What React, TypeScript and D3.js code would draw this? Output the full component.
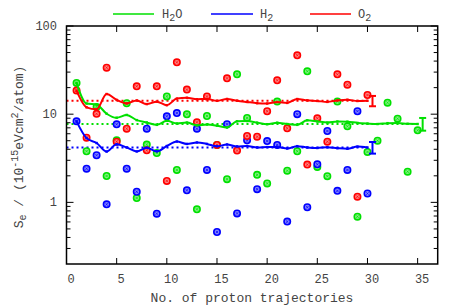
import React from "react";
import * as d3 from "d3";

// Individual values (10^-15 eV cm^2 / atom) per proton trajectory
const h2oValues = [22.6, 3.8, 12.1, 1.99, 5.05, 13.3, 1.12, 4.52, 3.63, 15.9, 2.33, 9.97, 0.834, 9.54, 4.48, 1.83, 28.3, 9.06, 2.05, 1.64, 13.9, 2.29, 3.8, 30.6, 2.52, 1.98, 13.9, 7.28, 0.689, 3.73, 5.01, 13.5, 8.9, 2.23, 6.56];
const h2Values = [8.3, 2.41, 3.42, 0.95, 7.68, 2.41, 1.32, 6.85, 0.745, 9.46, 10.3, 1.37, 6.85, 2.33, 0.461, 7.7, 0.75, 5.05, 1.41, 4.96, 4.48, 0.605, 10.0, 0.88, 2.7, 6.45, 1.35, 2.33, 10.8, 1.26];
const o2Values = [18.5, 5.42, 10.1, 33.7, 4.88, 6.85, 20.7, 3.89, 20.7, 1.75, 38.7, 19.0, 8.09, 15.9, 4.48, 25.5, 3.87, 5.66, 5.56, 10.8, 24.2, 6.92, 46.5, 2.68, 8.98, 4.88, 28.3, 21.6, 1.16, 16.5];

// Error bar ranges [low, high]
const h2oErr = [6.5, 9.06];
const h2Err = [3.57, 4.84];
const o2Err = [12.3, 16.1];

const seriesNames = ["H2O", "H2", "O2"];
const seriesColors = ["#00e000", "#0000ff", "#ff0000"];
const seriesFills = ["#80f080", "#8080ff", "#ff8080"];

const xTicks = [0, 5, 10, 15, 20, 25, 30, 35];
const yMajor = [1, 10, 100];
const yLabels = ["1", "10", "100"];

const W = 463, H = 308;
const L = 66.5, R = 437.7, T = 26, B = 264;

export default function App() {
  const x = d3.scaleLinear().domain([0, 37]).range([L, R]);
  const y = d3.scaleLog().domain([0.2, 100]).range([B, T]);

  const series = [
    { name: "H2O", vals: h2oValues, err: h2oErr, color: seriesColors[0], fill: seriesFills[0] },
    { name: "H2", vals: h2Values, err: h2Err, color: seriesColors[1], fill: seriesFills[1] },
    { name: "O2", vals: o2Values, err: o2Err, color: seriesColors[2], fill: seriesFills[2] },
  ].map((s) => {
    let sum = 0;
    const cum = s.vals.map((v, i) => {
      sum += v;
      return [i + 1, sum / (i + 1)] as [number, number];
    });
    return { ...s, cum, mean: sum / s.vals.length };
  });

  const line = d3
    .line<[number, number]>()
    .x((d) => x(d[0]))
    .y((d) => y(d[1]))
    .curve(d3.curveMonotoneX);

  const minor: number[] = [];
  [0.1, 1, 10].forEach((dec) => {
    for (let k = 2; k <= 9; k++) {
      const v = k * dec;
      if (v > 0.2 && v < 100 && v !== 1 && v !== 10) minor.push(v);
    }
  });

  const font = "'Liberation Mono', 'DejaVu Sans Mono', monospace";
  const txt = "#444";

  return (
    <svg width={W} height={H} style={{ position: "absolute", left: 0, top: 0 }} fontFamily={font}>
      <rect width={W} height={H} fill="white" />
      {/* dotted means */}
      {series.map((s) => (
        <line key={"m" + s.name} x1={x(0)} x2={x(s.vals.length)} y1={y(s.mean)} y2={y(s.mean)} stroke={s.color} strokeWidth={2} strokeDasharray="2,3" />
      ))}
      {/* points */}
      {series.map((s) => (
        <g key={"p" + s.name}>
          {s.vals.map((v, i) => {
            const cx = x(i + 1), cy = y(v);
            return (
              <g key={i}>
                <circle cx={cx} cy={cy} r={3.2} fill={s.fill} stroke={s.color} strokeWidth={1.6} />
                <path d={`M${cx - 1.2},${cy - 1.2}L${cx + 1.2},${cy + 1.2}M${cx - 1.2},${cy + 1.2}L${cx + 1.2},${cy - 1.2}`} stroke={s.color} strokeWidth={0.7} />
              </g>
            );
          })}
        </g>
      ))}
      {/* running means */}
      {series.map((s) => (
        <g key={"l" + s.name}>
          <path d={line(s.cum) || ""} fill="none" stroke={s.color} strokeWidth={2} />
          {s.cum.map((d, i) => (
            <rect key={i} x={x(d[0]) - 1.2} y={y(d[1]) - 1.2} width={2.4} height={2.4} fill={s.color} />
          ))}
          {/* error bar */}
          <g stroke={s.color} strokeWidth={2}>
            <line x1={x(s.vals.length + 0.5)} x2={x(s.vals.length + 0.5)} y1={y(s.err[0])} y2={y(s.err[1])} />
            <line x1={x(s.vals.length + 0.5) - 3.5} x2={x(s.vals.length + 0.5) + 3.5} y1={y(s.err[0])} y2={y(s.err[0])} />
            <line x1={x(s.vals.length + 0.5) - 3.5} x2={x(s.vals.length + 0.5) + 3.5} y1={y(s.err[1])} y2={y(s.err[1])} />
          </g>
        </g>
      ))}
      {/* ticks */}
      <g stroke="black" strokeWidth={1}>
        {xTicks.map((t) => (
          <g key={"xt" + t}>
            <line x1={x(t)} x2={x(t)} y1={B} y2={B - 6} />
            <line x1={x(t)} x2={x(t)} y1={T} y2={T + 6} />
          </g>
        ))}
        {yMajor.map((t) => (
          <g key={"yt" + t}>
            <line x1={L} x2={L + 7} y1={y(t)} y2={y(t)} />
            <line x1={R} x2={R - 7} y1={y(t)} y2={y(t)} />
          </g>
        ))}
        {minor.map((t) => (
          <g key={"ym" + t}>
            <line x1={L} x2={L + 4} y1={y(t)} y2={y(t)} />
            <line x1={R} x2={R - 4} y1={y(t)} y2={y(t)} />
          </g>
        ))}
      </g>
      <rect x={L} y={T} width={R - L} height={B - T} fill="none" stroke="black" strokeWidth={1.5} />
      {/* tick labels */}
      {xTicks.map((t) => (
        <text key={"xl" + t} x={x(t) + 4.5} y={283} textAnchor="middle" fontSize={12} fill={txt}>
          {t}
        </text>
      ))}
      {yMajor.map((t, i) => (
        <text key={"yl" + t} x={57} y={y(t) + 4} textAnchor="end" fontSize={12} fill={txt}>
          {yLabels[i]}
        </text>
      ))}
      {/* axis titles */}
      <text x={252} y={302} textAnchor="middle" fontSize={13} fill={txt}>
        No. of proton trajectories
      </text>
      <text transform={`translate(23,147) rotate(-90)`} textAnchor="middle" fontSize={13} fill={txt}>
        S<tspan fontSize={10} dy={3}>e</tspan>
        <tspan dy={-3}> / (10</tspan>
        <tspan fontSize={10} dy={-5}>-15</tspan>
        <tspan dy={5}>eVcm</tspan>
        <tspan fontSize={10} dy={-5}>2</tspan>
        <tspan dy={5}>/atom)</tspan>
      </text>
      {/* legend */}
      {[
        [113, 154, 162],
        [211, 253, 260],
        [310, 351, 358],
      ].map((p, i) => (
        <g key={"lg" + i}>
          <line x1={p[0]} x2={p[1]} y1={14} y2={14} stroke={seriesColors[i]} strokeWidth={1.5} />
          <text x={p[2]} y={18} fontSize={12} fill={txt}>
            {seriesNames[i].charAt(0)}
            <tspan fontSize={10} dy={3}>2</tspan>
            {seriesNames[i].length > 2 ? <tspan dy={-3}>{seriesNames[i].charAt(2)}</tspan> : null}
          </text>
        </g>
      ))}
    </svg>
  );
}
